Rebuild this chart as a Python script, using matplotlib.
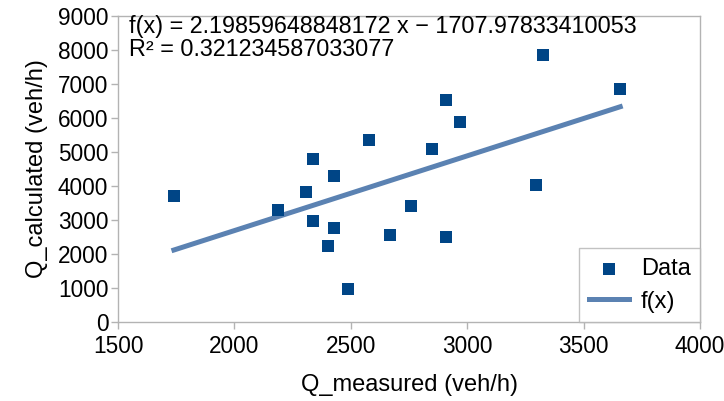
import numpy as np
import matplotlib.pyplot as plt

plt.rcParams['font.family'] = ['Liberation Sans', 'DejaVu Sans']

# measured vs calculated flow (veh/h)
q_measured = [1740, 2188, 2309, 2337, 2337, 2400, 2428, 2428, 2488, 2579,
              2667, 2758, 2848, 2909, 2909, 2969, 3297, 3327, 3657]
q_calculated = [3700, 3300, 3820, 4800, 2980, 2225, 4300, 2775, 970, 5350,
                2550, 3420, 5090, 6520, 2510, 5870, 4020, 7860, 6850]

slope = 2.19859648848172
intercept = -1707.97833410053
r_squared = 0.321234587033077

x_ticks = [1500, 2000, 2500, 3000, 3500, 4000]
y_ticks = [0, 1000, 2000, 3000, 4000, 5000, 6000, 7000, 8000, 9000]

fig = plt.figure(figsize=(7.24, 4.01), dpi=100)
ax = fig.add_axes([0.163, 0.197, 0.804, 0.763])

x_fit = np.array([min(q_measured), max(q_measured)])
y_fit = slope * x_fit + intercept
ax.plot(x_fit, y_fit, color='#5b82b2', linewidth=3.6, label='f(x)', zorder=2)
ax.scatter(q_measured, q_calculated, marker='s', s=70, color='#004586',
           label='Data', zorder=3, linewidths=0)

ax.set_xlim(1500, 4000)
ax.set_ylim(0, 9000)
ax.set_xticks(x_ticks)
ax.set_yticks(y_ticks)
ax.tick_params(labelsize=16.3, color='#b3b3b3', length=5, width=1, pad=2)
ax.tick_params(axis='x', pad=4)
for s in ax.spines.values():
    s.set_color('#b3b3b3')
    s.set_linewidth(1)

ax.set_xlabel('Q_measured (veh/h)', fontsize=17, labelpad=12)
ax.set_ylabel('Q_calculated (veh/h)', fontsize=17, labelpad=7)

eq = f"f(x) = {slope} x \u2212 {abs(intercept)}\nR\u00b2 = {r_squared}"
ax.text(0.019, 1.005, eq, transform=ax.transAxes, fontsize=16.8,
        va='top', ha='left', linespacing=1.05)

handles, labels = ax.get_legend_handles_labels()
leg = ax.legend(handles[::-1], labels[::-1], loc='lower right', fontsize=17,
                frameon=True, fancybox=False, borderaxespad=0,
                handlelength=1.7, handletextpad=0.5, borderpad=0.4,
                labelspacing=0.45)
leg.get_frame().set_edgecolor('#b3b3b3')
leg.get_frame().set_linewidth(1)

plt.savefig('out.png', dpi=100)
